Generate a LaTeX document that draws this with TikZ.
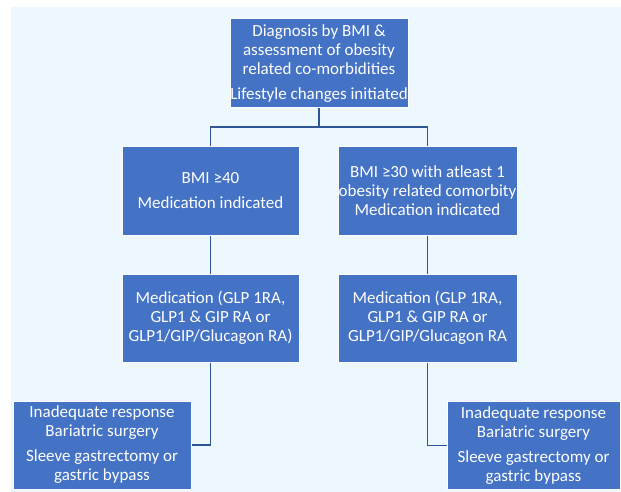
\documentclass[tikz,border=0pt]{standalone}
\usepackage{fontspec}
\setmainfont{Carlito}
\definecolor{bgblue}{RGB}{237,247,254}
\definecolor{boxblue}{RGB}{68,114,196}
\definecolor{lineblue}{RGB}{47,85,151}
\begin{document}
\begin{tikzpicture}[x=1pt,y=-1pt,
  box/.style={rectangle, fill=boxblue, draw=white, line width=1pt, text=white,
    align=center, inner sep=0pt, minimum height=88pt,
    font=\fontsize{17}{19}\selectfont},
  link/.style={draw=lineblue, line width=1.5pt}]
\useasboundingbox (0,0) rectangle (621,492);
\fill[bgblue] (11,7) rectangle (621,492);
\node[box, minimum width=178pt, minimum height=89pt] (top) at (319,63.5)
  {Diagnosis by BMI \&\\ assessment of obesity\\ related co-morbidities\\[6pt] Lifestyle changes initiated};
\node[box, minimum width=177pt] (l2) at (210.5,191)
  {BMI ≥40\\[6pt] Medication indicated};
\node[box, minimum width=179pt] (r2) at (427.5,191)
  {BMI ≥30 with atleast 1\\ obesity related comorbity\\ Medication indicated};
\node[box, minimum width=177pt] (l3) at (210.5,318)
  {Medication (GLP 1RA,\\ GLP1 \& GIP RA or\\ GLP1/GIP/Glucagon RA)};
\node[box, minimum width=179pt] (r3) at (427.5,318)
  {Medication (GLP 1RA,\\ GLP1 \& GIP RA or\\ GLP1/GIP/Glucagon RA};
\node[box, minimum width=178pt] (l4) at (102,445)
  {Inadequate response\\ Bariatric surgery\\[6pt] Sleeve gastrectomy or\\ gastric bypass};
\node[box, minimum width=173pt] (r4) at (533.5,445.5)
  {Inadequate response\\ Bariatric surgery\\[6pt] Sleeve gastrectomy or\\ gastric bypass};
\coordinate (split) at (319,127);
\draw[link] (top.south) -- (split);
\draw[link] (split) -| (l2.north);
\draw[link] (split) -| (r2.north);
\draw[link] (l2.south) -- (l3.north);
\draw[link] (r2.south) -- (r3.north);
\draw[link] (l3.south) |- (l4.east);
\draw[link] (r3.south) |- (r4.west);
\end{tikzpicture}
\end{document}
